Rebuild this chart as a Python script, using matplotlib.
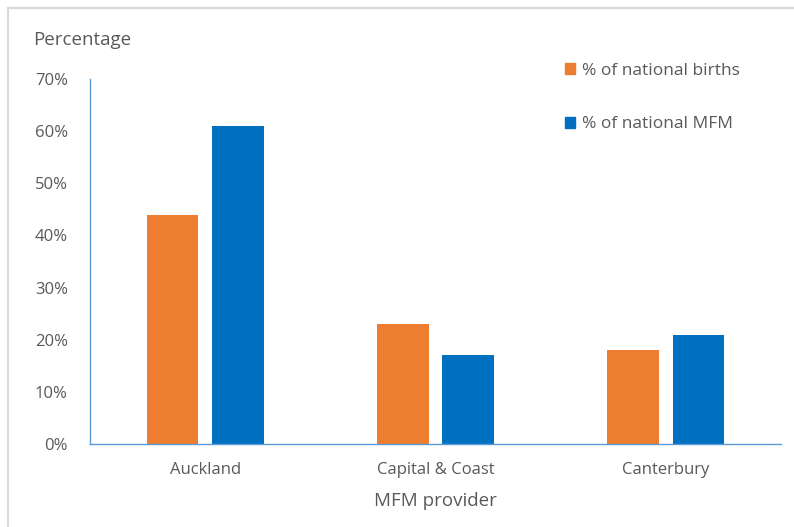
import matplotlib.pyplot as plt
from matplotlib.patches import Rectangle, Patch
import numpy as np

plt.rcParams["font.family"] = ["Open Sans", "DejaVu Sans"]

providers = ["Auckland", "Capital & Coast", "Canterbury"]
births_pct = [44, 23, 18]
mfm_pct = [61, 17, 21]
yticks = [0, 10, 20, 30, 40, 50, 60, 70]

ORANGE = "#ED7D31"
BLUE = "#0070C0"
TEXT = "#595959"
AXIS = "#5B9BD5"

fig = plt.figure(figsize=(7.94, 5.27), dpi=100)
ax = fig.add_axes([90 / 794, 1 - 444 / 527, 691 / 794, 365 / 527])

x = np.arange(len(providers))
w = 0.224
ax.bar(x - 0.142, births_pct, w, color=ORANGE, label="% of national births")
ax.bar(x + 0.142, mfm_pct, w, color=BLUE, label="% of national MFM")

ax.set_xlim(-0.5, 2.5)
ax.set_ylim(0, 70)
ax.set_yticks(yticks)
ax.set_yticklabels([f"{v}%" for v in yticks])
ax.set_xticks(x)
ax.set_xticklabels(providers)
ax.tick_params(length=0, labelsize=12, colors=TEXT)
ax.tick_params(axis="x", pad=13)
ax.tick_params(axis="y", pad=16)

for s in ["top", "right"]:
    ax.spines[s].set_visible(False)
for s in ["left", "bottom"]:
    ax.spines[s].set_color(AXIS)
    ax.spines[s].set_linewidth(1.0)

ax.set_xlabel("MFM provider", fontsize=13.5, color=TEXT, labelpad=10)
fig.text(33 / 794, 1 - 40 / 527, "Percentage", fontsize=13.5, color=TEXT,
         va="center", ha="left")

handles = [Patch(color=ORANGE), Patch(color=BLUE)]
fig.legend(handles, ["% of national births", "% of national MFM"],
           loc="upper left", bbox_to_anchor=(558 / 794, 1 - 56 / 527),
           frameon=False, fontsize=12.5, labelcolor=TEXT,
           handlelength=0.6, handleheight=0.6, handletextpad=0.4,
           labelspacing=2.15, borderaxespad=0)

# light grey frame of the chart area
fig.patches.append(Rectangle((8 / 794, -0.1), 1.2, 1 - 8 / 527 + 0.1,
                             transform=fig.transFigure, fill=False,
                             edgecolor="#D9D9D9", linewidth=1.5))

fig.savefig("out.png", dpi=100)
